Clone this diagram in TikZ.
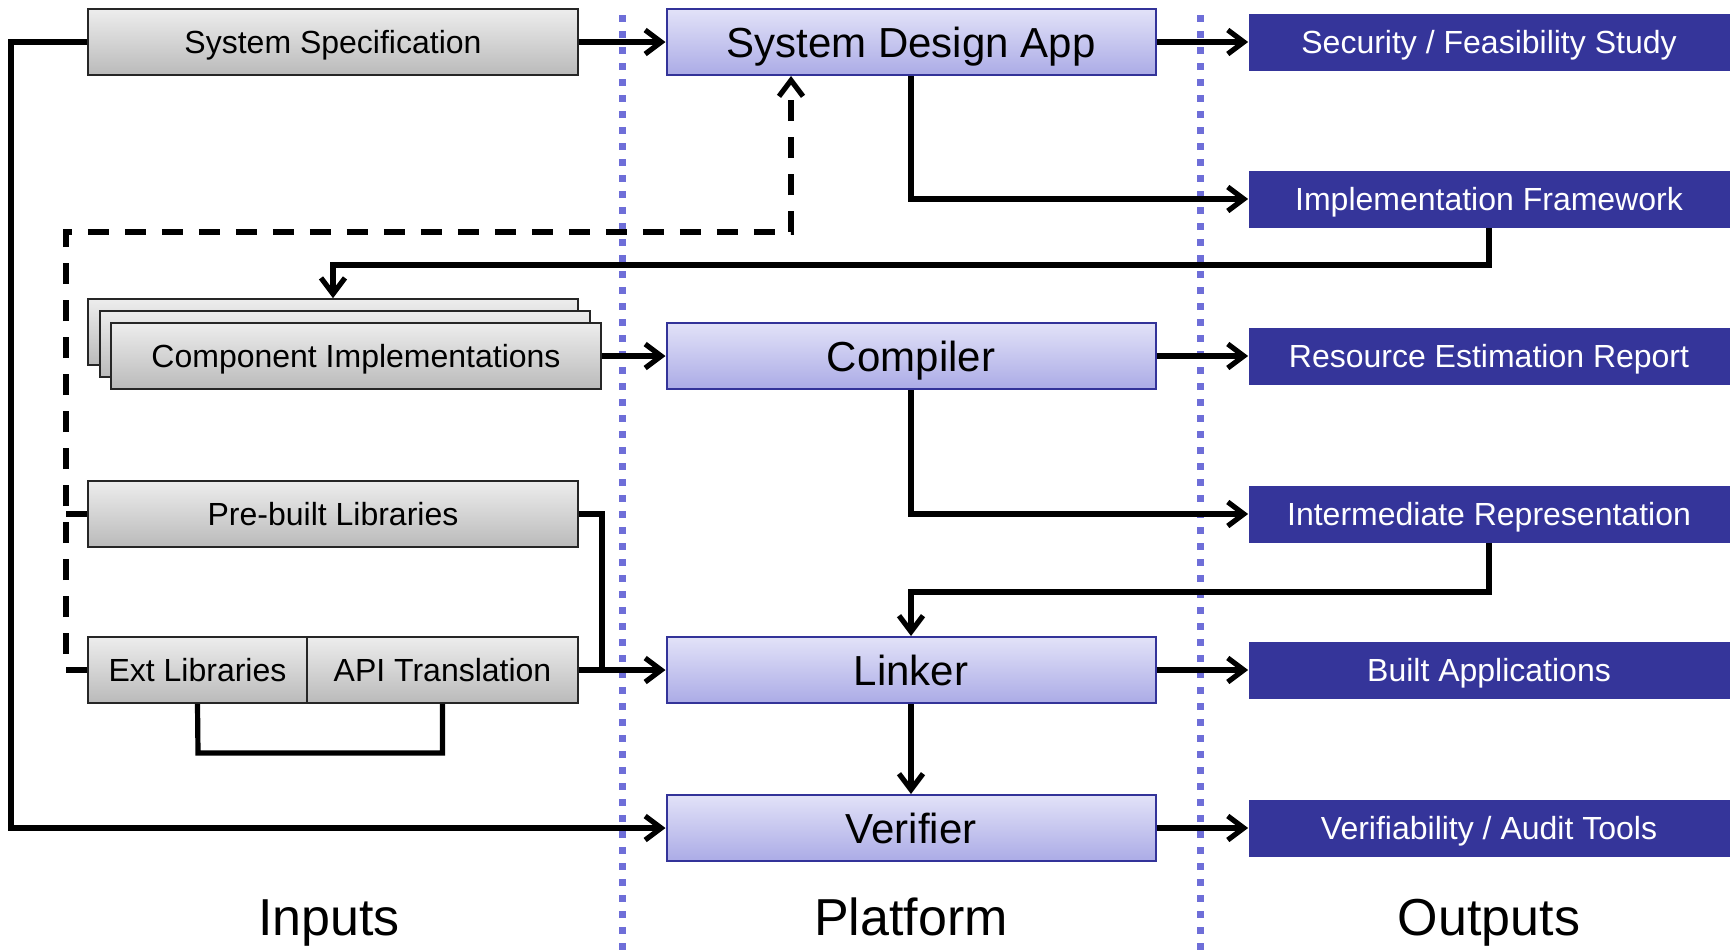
\documentclass[tikz,border=0pt]{standalone}
\usepackage{fontspec}
\setmainfont{Liberation Sans}
\usetikzlibrary{arrows.meta}

\definecolor{plattop}{HTML}{E2E2F8}
\definecolor{platbot}{HTML}{ABABE6}
\definecolor{platline}{HTML}{333399}
\definecolor{outfill}{HTML}{35359A}
\definecolor{sepline}{HTML}{6E6ED8}
\definecolor{intop}{HTML}{EDEDED}
\definecolor{inbot}{HTML}{BABABA}

\tikzset{
  inbox/.style={draw=black!85, line width=0.8pt, top color=intop, bottom color=inbot,
    minimum width=245pt, minimum height=33pt, inner sep=0pt, text height=11.5pt, text depth=0pt,
    font=\fontsize{16}{18}\selectfont},
  platbox/.style={draw=platline, line width=1pt, top color=plattop, bottom color=platbot,
    minimum width=244.5pt, minimum height=33pt, inner sep=0pt, text height=15.1pt, text depth=0pt,
    font=\fontsize{21}{24}\selectfont},
  outbox/.style={fill=outfill, text=white, minimum width=240.5pt, minimum height=28.5pt,
    inner sep=0pt, text height=11.5pt, text depth=0pt, font=\fontsize{16}{18}\selectfont},
  colhead/.style={inner sep=0pt, text height=18.7pt, text depth=0pt, font=\fontsize{26}{30}\selectfont},
  wire/.style={line width=2.6pt},
  flow/.style={wire, -{Straight Barb[length=8pt,width=12pt]}},
  optflow/.style={flow, dash pattern=on 10.5pt off 8pt},
  sep/.style={draw=sepline, line width=3.5pt, dash pattern=on 3.5pt off 4.5pt}
}

\begin{document}
\begin{tikzpicture}[x=0.5pt, y=-0.5pt]
	\useasboundingbox (0,0) rectangle (1732,950);

	% column separators
	\draw[sep] (622,15) -- (622,950);
	\draw[sep] (1200,15) -- (1200,950);

	% inputs
	\node[inbox] (sysspec) at (333,42) {System Specification};
	\node[inbox] (compback) at (333,332) {};
	\node[inbox] (compmid) at (345,344) {};
	\node[inbox] (compimpl) at (356,356) {Component Implementations};
	\node[inbox] (prebuilt) at (333,514) {Pre-built Libraries};
	\node[inbox, minimum width=109.5pt] (extlib) at (197.5,670) {Ext Libraries};
	\node[inbox, minimum width=135.5pt] (apitrans) at (442.5,670) {API Translation};

	% platform
	\node[platbox] (sysdesign) at (911,42) {System Design App};
	\node[platbox] (compiler) at (911,356) {Compiler};
	\node[platbox] (linker) at (911,670) {Linker};
	\node[platbox] (verifier) at (911,828) {Verifier};

	% outputs
	\node[outbox] (security) at (1489,42) {Security / Feasibility Study};
	\node[outbox] (implfw) at (1489,199) {Implementation Framework};
	\node[outbox] (resest) at (1489,356) {Resource Estimation Report};
	\node[outbox] (interrep) at (1489,514) {Intermediate Representation};
	\node[outbox] (builtapps) at (1489,670) {Built Applications};
	\node[outbox] (audit) at (1489,828) {Verifiability / Audit Tools};

	% column titles
	\node[colhead] (inputs) at (329,917) {Inputs};
	\node[colhead] (platform) at (911,917) {Platform};
	\node[colhead] (outputs) at (1489,917) {Outputs};

	% inputs to platform
	\draw[flow] (sysspec) -- (sysdesign);
	\draw[flow] (compimpl) -- (compiler);
	\draw[flow] (apitrans) -- (linker);
	\draw[wire] (prebuilt.east) -- (602,514) -- (602,670);
	\draw[wire] (extlib.south) -- (198,753) -| (apitrans.south);
	\draw[flow] (sysspec.west) -- (11,42) |- (verifier.west);
	\draw[optflow] (extlib.west) -- (66,670) -- (66,232) -| (791,0 |- sysdesign.south);
	\draw[optflow, -] (prebuilt.west) -- (66,514);

	% platform to outputs
	\draw[flow] (sysdesign) -- (security);
	\draw[flow] (sysdesign.south) |- (implfw.west);
	\draw[flow] (compiler) -- (resest);
	\draw[flow] (compiler.south) |- (interrep.west);
	\draw[flow] (linker) -- (builtapps);
	\draw[flow] (linker) -- (verifier);
	\draw[flow] (verifier) -- (audit);

	% feedback into the next stage
	\draw[flow] (implfw.south) -- (1489,265) -| (compback.north);
	\draw[flow] (interrep.south) -- (1489,592) -| (linker.north);
\end{tikzpicture}
\end{document}
